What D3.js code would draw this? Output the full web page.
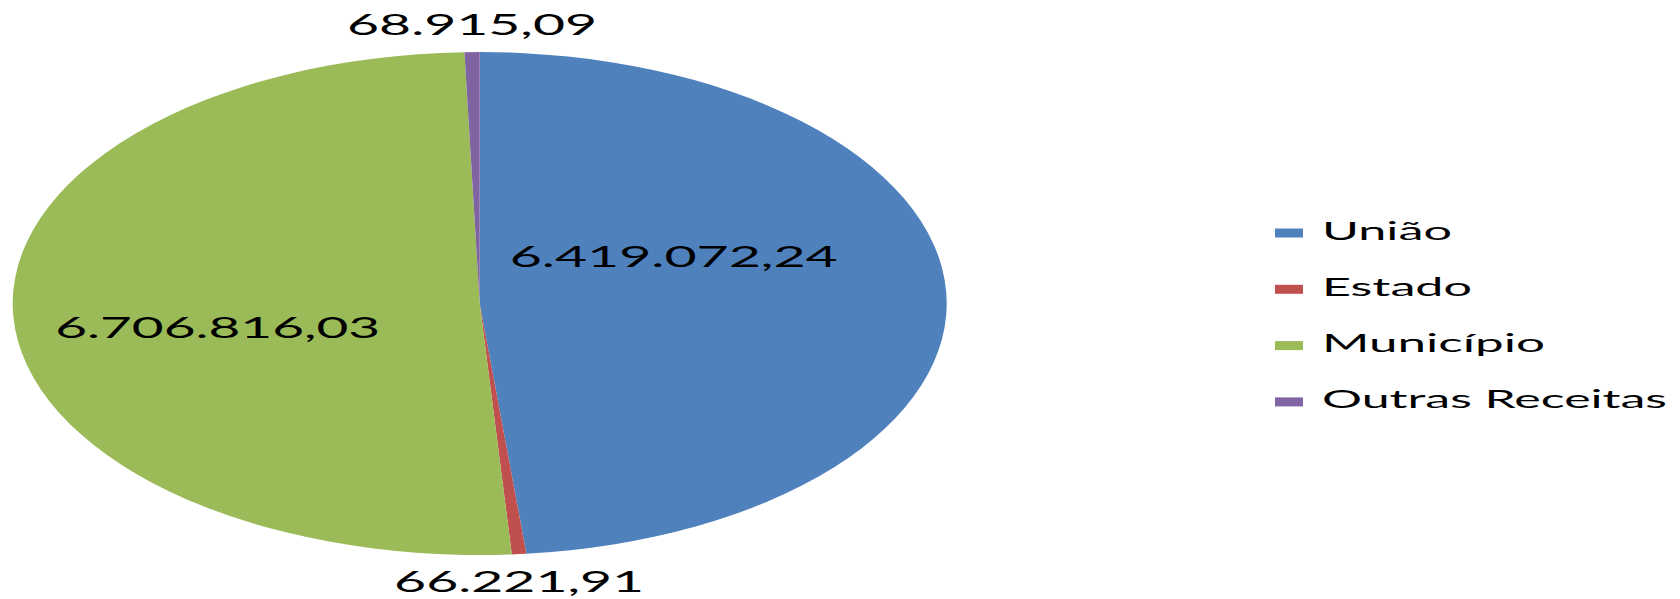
<!DOCTYPE html>
<html>
<head>
<meta charset="utf-8">
<script src="https://cdn.jsdelivr.net/npm/d3@7"></script>
<style>
  html, body { margin: 0; padding: 0; background: #fff; }
  svg { display: block; }
  text { font-family: Lato, "Open Sans", sans-serif; fill: #000; }
</style>
</head>
<body>
<svg id="chart" width="1680" height="599"></svg>
<script>
// ---- data ----
const categories = ["União", "Estado", "Município", "Outras Receitas"];
const values = [6419072.24, 66221.91, 6706816.03, 68915.09];
const valueLabels = ["6.419.072,24", "66.221,91", "6.706.816,03", "68.915,09"];
const colors = ["#4F81BD", "#C0504D", "#9BBB59", "#8064A2"];

// ---- layout ----
const W = 1680, H = 599;
const cx = 479.7, cy = 303.5, rx = 467, ry = 251.5;
const sx = rx / ry;
// label placement: inside labels get an offset from centre; outside labels sit beyond the rim
const labelLayout = [
  { mode: "inside", dx: 194, dy: -37, size: 28, width: 328 },
  { mode: "below", gap: 38, size: 29, width: 250 },
  { mode: "inside", dx: -262, dy: 34.5, size: 28, width: 325 },
  { mode: "above", gap: 17, size: 28, width: 250 }
];
const legend = { x: 1275, y: 228.5, step: 56.3, sw: 28, sh: 9, tx: 1322, base: 11, size: 25,
  widths: [130, 150, 223, 345] };

const svg = d3.select("#chart");

const pie = d3.pie().sort(null).value(d => d)
  .startAngle(0).endAngle(2 * Math.PI);
const arcs = pie(values);
const arc = d3.arc().innerRadius(0).outerRadius(ry);

const g = svg.append("g")
  .attr("transform", `translate(${cx},${cy}) scale(${sx},1)`);

g.selectAll("path.slice")
  .data(arcs)
  .join("path")
  .attr("class", "slice")
  .attr("d", arc)
  .attr("fill", (d, i) => colors[i]);

// labels
const lab = svg.append("g");
arcs.forEach((a, i) => {
  const L = labelLayout[i];
  const mid = (a.startAngle + a.endAngle) / 2;
  let x, y;
  if (L.mode === "inside") {
    x = cx + L.dx; y = cy + L.dy;
  } else {
    x = cx + rx * Math.sin(mid);
    const edgeY = cy - ry * Math.cos(mid);
    y = L.mode === "above" ? edgeY - L.gap : edgeY + L.gap;
  }
  lab.append("text")
    .attr("x", x).attr("y", y)
    .attr("text-anchor", "middle")
    .attr("font-size", L.size)
    .attr("textLength", L.width)
    .attr("lengthAdjust", "spacingAndGlyphs")
    .text(valueLabels[i]);
});

// legend
const lg = svg.append("g");
categories.forEach((c, i) => {
  const y0 = legend.y + i * legend.step;
  lg.append("rect")
    .attr("x", legend.x).attr("y", y0)
    .attr("width", legend.sw).attr("height", legend.sh)
    .attr("fill", colors[i]);
  lg.append("text")
    .attr("x", legend.tx).attr("y", y0 + legend.base)
    .attr("font-size", legend.size)
    .attr("textLength", legend.widths[i])
    .attr("lengthAdjust", "spacingAndGlyphs")
    .text(c);
});
</script>
</body>
</html>
